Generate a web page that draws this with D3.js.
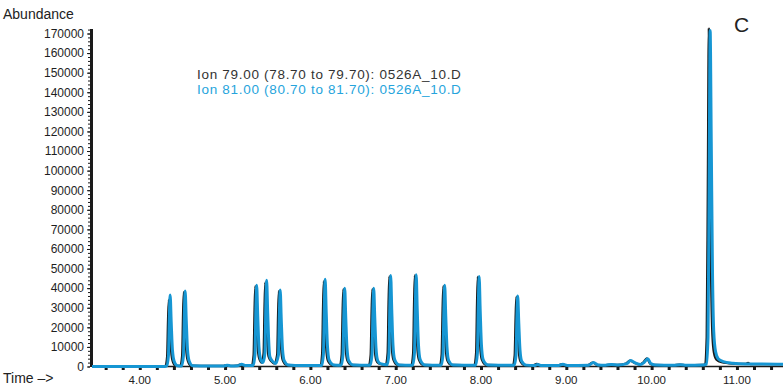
<!DOCTYPE html>
<html>
  <head>
    <meta charset="UTF-8" />
    <script src="https://cdn.jsdelivr.net/npm/d3@7"></script>
    <style>
      body { margin: 0; background: #fff; }
      svg { display: block; }
    </style>
  </head>
  <body>
    <svg></svg>
    <script>
      // 1. data (time in min, abundance)
      const ion79 = [
        [3.44, 0], [4.28, 0],
        [4.30, 300], [4.320, 5000], [4.331, 24000], [4.340, 34000], [4.353, 20000], [4.367, 8000], [4.387, 2500], [4.42, 400],
        [4.475, 300], [4.496, 5500], [4.507, 27000], [4.516, 38000], [4.529, 23000], [4.543, 9000], [4.563, 2800], [4.60, 400],
        [4.80, 300], [4.98, 300], [5.01, 700], [5.05, 300], [5.14, 400], [5.18, 1100], [5.22, 500],
        [5.313, 500], [5.334, 6000], [5.345, 29000], [5.354, 41000], [5.367, 25000], [5.381, 10000],
        [5.40, 4000], [5.43, 2000], [5.451, 7000], [5.462, 31000], [5.471, 43000], [5.484, 26000], [5.498, 10000], [5.51, 5000],
        [5.545, 2500], [5.575, 1500], [5.610, 6000], [5.621, 27000], [5.630, 38500], [5.643, 23000], [5.657, 9000], [5.677, 3000], [5.72, 800],
        [5.9, 500], [6.1, 500],
        [6.116, 600], [6.137, 6500], [6.148, 31000], [6.157, 43500], [6.170, 26000], [6.184, 10000], [6.204, 3000], [6.25, 800],
        [6.345, 600], [6.366, 6000], [6.377, 28000], [6.386, 39500], [6.399, 24000], [6.413, 9500], [6.433, 3000], [6.48, 800],
        [6.685, 600], [6.706, 6000], [6.717, 28000], [6.726, 39500], [6.739, 24000], [6.753, 9500], [6.773, 3000], [6.80, 1500],
        [6.884, 900], [6.905, 7000], [6.916, 33000], [6.925, 46000], [6.938, 28000], [6.952, 11000], [6.972, 3500], [7.02, 800],
        [7.183, 600], [7.204, 7000], [7.215, 33000], [7.224, 46500], [7.237, 28000], [7.251, 11000], [7.271, 3500], [7.32, 800],
        [7.517, 600], [7.538, 6000], [7.549, 29000], [7.558, 41000], [7.571, 25000], [7.585, 10000], [7.605, 3000], [7.65, 800],
        [7.921, 600], [7.942, 7000], [7.953, 32500], [7.962, 45800], [7.975, 28000], [7.989, 11000], [8.009, 3500], [8.06, 800],
        [8.373, 600], [8.394, 5500], [8.405, 25000], [8.414, 35500], [8.427, 21500], [8.441, 8500], [8.461, 2700], [8.51, 700],
        [8.60, 500], [8.655, 1300], [8.70, 500], [8.90, 500], [8.95, 1200], [9.00, 500], [9.25, 700], [9.31, 2000], [9.36, 800],
        [9.45, 700], [9.52, 1000], [9.60, 800], [9.70, 1500], [9.745, 3000], [9.80, 1800], [9.86, 1000], [9.90, 2000], [9.944, 4200],
        [9.98, 1500], [10.03, 800], [10.25, 700], [10.33, 1000], [10.40, 700], [10.60, 800],
        [10.625, 1200], [10.645, 15000], [10.658, 90000], [10.670, 172500], [10.683, 110000], [10.697, 45000], [10.712, 16000],
        [10.73, 7000], [10.76, 3500], [10.82, 2200], [10.95, 1500], [11.10, 1300], [11.13, 1800], [11.16, 1200], [11.54, 1200]
      ]

      const ion81 = [
        [3.44, 0], [4.29, 0],
        [4.316, 300], [4.336, 5500], [4.347, 26000], [4.356, 36500], [4.369, 22000], [4.383, 8500], [4.403, 2700], [4.44, 400],
        [4.491, 300], [4.512, 5500], [4.523, 27000], [4.532, 38500], [4.545, 23500], [4.559, 9000], [4.579, 2800], [4.62, 400],
        [4.82, 300], [4.99, 300], [5.025, 700], [5.065, 300], [5.15, 400], [5.195, 1100], [5.235, 500],
        [5.329, 500], [5.350, 6000], [5.361, 29500], [5.370, 41500], [5.383, 25500], [5.397, 10000],
        [5.415, 4000], [5.445, 2000], [5.467, 7000], [5.478, 32000], [5.487, 44000], [5.500, 27000], [5.514, 10500], [5.525, 5000],
        [5.56, 2500], [5.59, 1500], [5.626, 6000], [5.637, 28000], [5.646, 39000], [5.659, 23500], [5.673, 9000], [5.693, 3000], [5.74, 800],
        [5.9, 500], [6.12, 500],
        [6.132, 600], [6.153, 6500], [6.164, 32000], [6.173, 44500], [6.186, 27000], [6.200, 10500], [6.220, 3200], [6.27, 800],
        [6.361, 600], [6.382, 6000], [6.393, 28500], [6.402, 40000], [6.415, 24500], [6.429, 9500], [6.449, 3000], [6.50, 800],
        [6.701, 600], [6.722, 6000], [6.733, 28500], [6.742, 40000], [6.755, 24500], [6.769, 9500], [6.789, 3000], [6.82, 1500],
        [6.900, 900], [6.921, 7000], [6.932, 33000], [6.941, 46500], [6.954, 28500], [6.968, 11000], [6.988, 3500], [7.04, 800],
        [7.199, 600], [7.220, 7000], [7.231, 33000], [7.240, 46800], [7.253, 28500], [7.267, 11000], [7.287, 3500], [7.34, 800],
        [7.533, 600], [7.554, 6000], [7.565, 29500], [7.574, 41500], [7.587, 25500], [7.601, 10000], [7.621, 3000], [7.67, 800],
        [7.937, 600], [7.958, 7000], [7.969, 32500], [7.978, 46000], [7.991, 28000], [8.005, 11000], [8.025, 3500], [8.08, 800],
        [8.389, 600], [8.410, 5500], [8.421, 25500], [8.430, 36000], [8.443, 22000], [8.457, 8500], [8.477, 2700], [8.53, 700],
        [8.62, 500], [8.665, 1000], [8.71, 500], [8.91, 500], [8.96, 1100], [9.01, 500], [9.26, 700], [9.32, 2000], [9.37, 800],
        [9.46, 700], [9.53, 1000], [9.61, 800], [9.71, 1500], [9.755, 3000], [9.81, 1800], [9.87, 1000], [9.91, 2000], [9.954, 4000],
        [9.99, 1500], [10.04, 800], [10.26, 700], [10.34, 900], [10.41, 700], [10.61, 800],
        [10.641, 1200], [10.661, 15000], [10.674, 90000], [10.686, 171500], [10.699, 115000], [10.713, 50000], [10.728, 18000],
        [10.75, 7500], [10.78, 4000], [10.84, 2500], [10.95, 1700], [11.10, 1300], [11.54, 1200]
      ]

      const xTickLabels = ['4.00', '5.00', '6.00', '7.00', '8.00', '9.00', '10.00', '11.00']
      const yTickLabels = ['0', '10000', '20000', '30000', '40000', '50000', '60000', '70000', '80000',
        '90000', '100000', '110000', '120000', '130000', '140000', '150000', '160000', '170000']
      const legend = ['Ion 79.00 (78.70 to 79.70): 0526A_10.D', 'Ion 81.00 (80.70 to 81.70): 0526A_10.D']

      // 2. canvas
      const width = 783
      const height = 388
      const font = '"Liberation Sans", Arial, sans-serif'
      const blue = '#1696d3'
      const dark = '#1a1a1a'

      const svg = d3.select('svg')
        .attr('width', width)
        .attr('height', height)
        .style('font-family', font)

      const x = d3.scaleLinear([3.44, 11.54], [92, 783])
      const y = d3.scaleLinear([0, 170000], [366.5, 33.5])

      const line = d3.line()
        .x((d) => x(d[0]))
        .y((d) => y(d[1]))
        .curve(d3.curveMonotoneX)

      // 3. y axis: minor + major ticks, thick line
      svg.append('g')
        .attr('transform', 'translate(90,0)')
        .call(d3.axisLeft(y).tickValues(d3.range(0, 172001, 2000)).tickSize(2).tickFormat(''))
        .call((g) => g.select('.domain').remove())
        .call((g) => g.selectAll('line').attr('stroke', dark))

      svg.append('g')
        .attr('transform', 'translate(90,0)')
        .call(d3.axisLeft(y)
          .tickValues(yTickLabels.map(Number))
          .tickSize(3)
          .tickPadding(3)
          .tickFormat((d, i) => yTickLabels[i]))
        .call((g) => g.select('.domain').remove())
        .call((g) => g.selectAll('line').attr('stroke', dark))
        .call((g) => g.selectAll('text')
          .attr('font-size', 12)
          .attr('font-family', font)
          .attr('fill', '#1e1e1e'))

      svg.append('line')
        .attr('x1', 91.5).attr('x2', 91.5)
        .attr('y1', 29).attr('y2', 367)
        .attr('stroke', dark)
        .attr('stroke-width', 3)

      // 4. x axis: baseline, square ticks, labels
      svg.append('g')
        .attr('transform', 'translate(0,367)')
        .call(d3.axisBottom(x)
          .tickValues(d3.range(3.6, 11.5, 0.2))
          .tickSize(3)
          .tickFormat(''))
        .call((g) => g.select('.domain').remove())
        .call((g) => g.selectAll('line').attr('stroke', dark).attr('stroke-width', 3))

      svg.append('line')
        .attr('x1', 92).attr('x2', width)
        .attr('y1', 366.5).attr('y2', 366.5)
        .attr('stroke', dark)
        .attr('stroke-width', 1.5)

      svg.append('g')
        .selectAll('text')
        .data(xTickLabels)
        .join('text')
        .attr('x', (d) => x(+d))
        .attr('y', 384)
        .attr('text-anchor', 'middle')
        .attr('font-size', 11.5)
        .attr('fill', '#222')
        .text((d) => d)

      // 5. traces (black first, blue on top)
      svg.append('path')
        .datum(ion79)
        .attr('fill', 'none')
        .attr('stroke', dark)
        .attr('stroke-width', 2.2)
        .attr('stroke-linejoin', 'round')
        .attr('d', line)

      svg.append('path')
        .datum(ion81)
        .attr('fill', 'none')
        .attr('stroke', blue)
        .attr('stroke-width', 3)
        .attr('stroke-linejoin', 'round')
        .attr('d', line)

      // 6. texts
      svg.append('text')
        .attr('x', 3).attr('y', 19)
        .attr('font-size', 14)
        .attr('fill', '#222')
        .text('Abundance')

      svg.append('text')
        .attr('x', 3).attr('y', 383)
        .attr('font-size', 14)
        .attr('fill', '#222')
        .text('Time –>')

      svg.append('text')
        .attr('x', 734).attr('y', 32)
        .attr('font-size', 21)
        .attr('fill', '#222')
        .text('C')

      svg.append('g')
        .selectAll('text')
        .data(legend)
        .join('text')
        .attr('x', 197)
        .attr('y', (d, i) => 78.5 + i * 15)
        .attr('font-size', 13.5)
        .attr('letter-spacing', 0.7)
        .attr('fill', (d, i) => (i === 0 ? '#333' : '#26a4dc'))
        .text((d) => d)
    </script>
  </body>
</html>
